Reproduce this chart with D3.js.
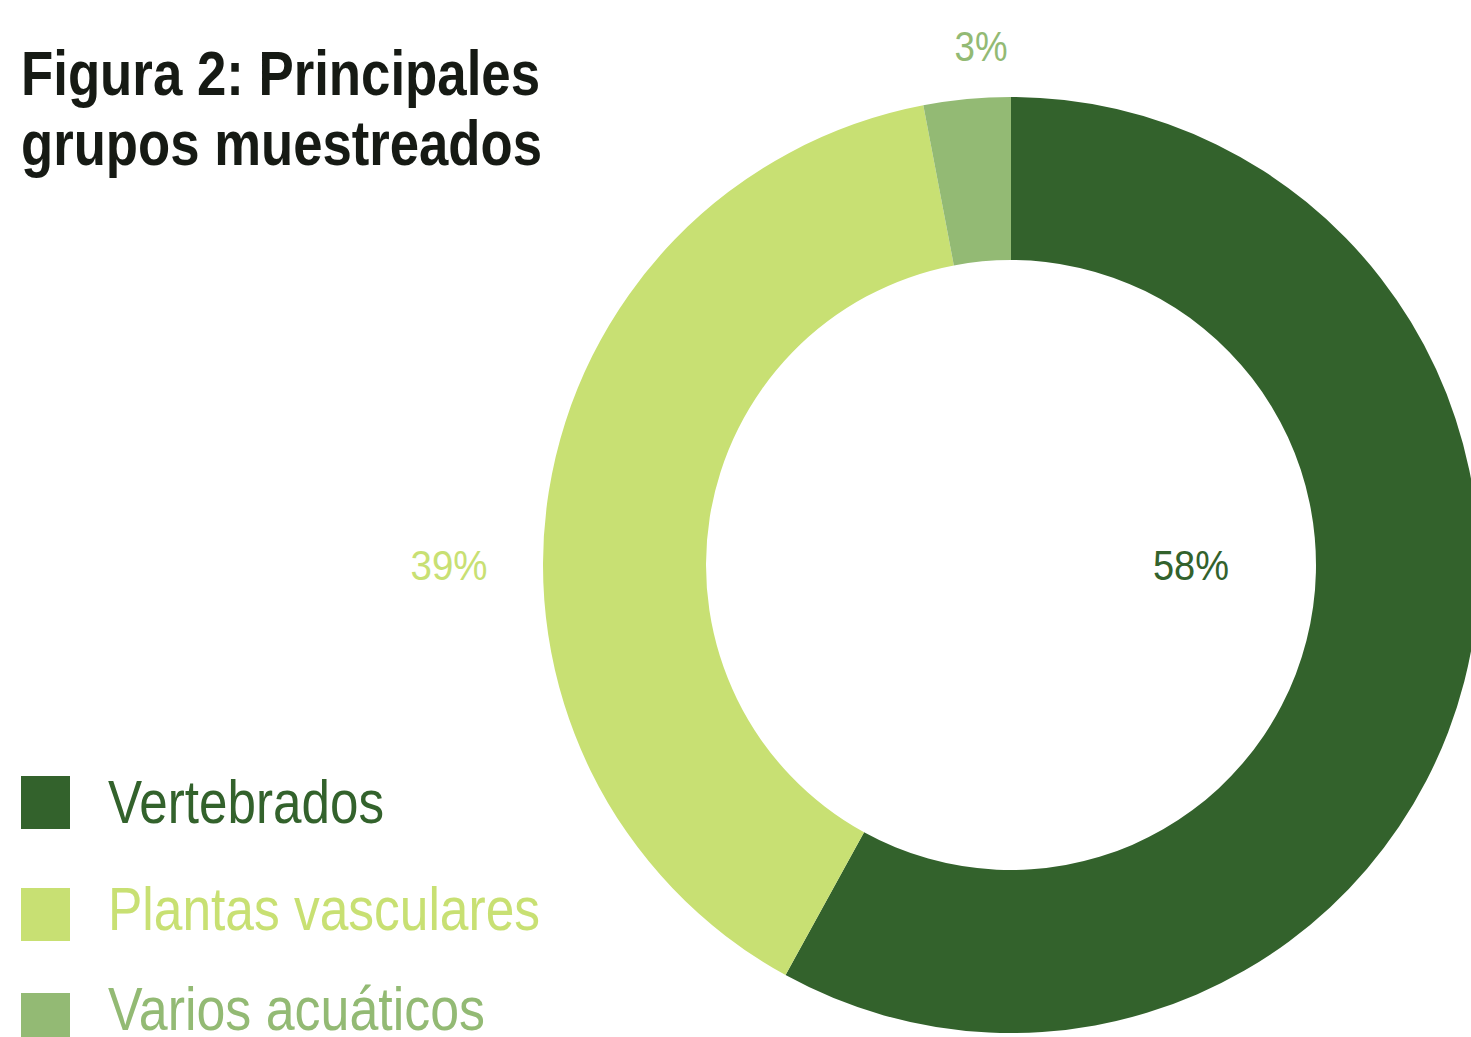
<!DOCTYPE html>
<html>
<head>
<meta charset="utf-8">
<script src="https://cdn.jsdelivr.net/npm/d3@7"></script>
<style>
  html, body { margin: 0; padding: 0; background: #fff; overflow: hidden; }
  text { font-family: "Liberation Sans", Arial, sans-serif; }
</style>
</head>
<body>
<svg id="chart"></svg>
<script>
// data
var groups = ["Vertebrados", "Plantas vasculares", "Varios acuáticos"];
var shares = [58, 39, 3];
var colors = ["#33622c", "#c8e073", "#93ba74"];
var titleLines = ["Figura 2: Principales", "grupos muestreados"];

var width = 1471, height = 1037;
var cx = 1011, cy = 565,
    outerR = 468, innerR = 305;

var svg = d3.select("#chart")
    .attr("width", width)
    .attr("height", height);

var data = groups.map(function(g, i) { return {group: g, value: shares[i], color: colors[i]}; });

var pie = d3.pie()
    .sort(null)
    .value(function(d) { return d.value; });

var arc = d3.arc()
    .innerRadius(innerR)
    .outerRadius(outerR);

var g = svg.append("g")
    .attr("transform", "translate(" + cx + "," + cy + ")");

var arcs = pie(data);

g.selectAll("path")
    .data(arcs)
  .enter().append("path")
    .attr("d", arc)
    .style("fill", function(d) { return d.data.color; });

// label anchors (angle in degrees, radius) — hand placed like the original
var labelAnchors = [[90, 180], [270, 562], [-3.3, 520]];
var labelW = [76, 77, 53];

g.selectAll("text.pct")
    .data(arcs)
  .enter().append("text")
    .attr("class", "pct")
    .attr("transform", function(d, i) {
      var p = d3.pointRadial(labelAnchors[i][0] * Math.PI / 180, labelAnchors[i][1]);
      return "translate(" + (p[0] - labelW[i] / 2) + "," + (p[1] + 15) + ")";
    })
    .attr("textLength", function(d, i) { return labelW[i]; })
    .attr("lengthAdjust", "spacingAndGlyphs")
    .style("font-size", "42px")
    .style("fill", function(d) { return d.data.color; })
    .text(function(d) { return d.data.value + "%"; });

// title
svg.selectAll("text.title")
    .data(titleLines)
  .enter().append("text")
    .attr("class", "title")
    .attr("x", 21)
    .attr("y", function(d, i) { return 95 + i * 70; })
    .attr("textLength", function(d, i) { return i === 0 ? 519 : 521; })
    .attr("lengthAdjust", "spacingAndGlyphs")
    .style("font-size", "63px")
    .style("font-weight", "bold")
    .style("fill", "#161a14")
    .text(function(d) { return d; });

// legend
var legendW = [276, 432, 377];
var legendTop = [776, 888, 993];
var legendBase = [823, 930, 1030];

var legend = svg.selectAll("g.legend")
    .data(data)
  .enter().append("g")
    .attr("class", "legend");

legend.append("rect")
    .attr("x", 21)
    .attr("y", function(d, i) { return legendTop[i]; })
    .attr("width", 49)
    .attr("height", 53)
    .style("fill", function(d) { return d.color; });

legend.append("text")
    .attr("x", 108)
    .attr("y", function(d, i) { return legendBase[i]; })
    .attr("textLength", function(d, i) { return legendW[i]; })
    .attr("lengthAdjust", "spacingAndGlyphs")
    .style("font-size", "62px")
    .style("fill", function(d) { return d.color; })
    .text(function(d) { return d.group; });
</script>
</body>
</html>
